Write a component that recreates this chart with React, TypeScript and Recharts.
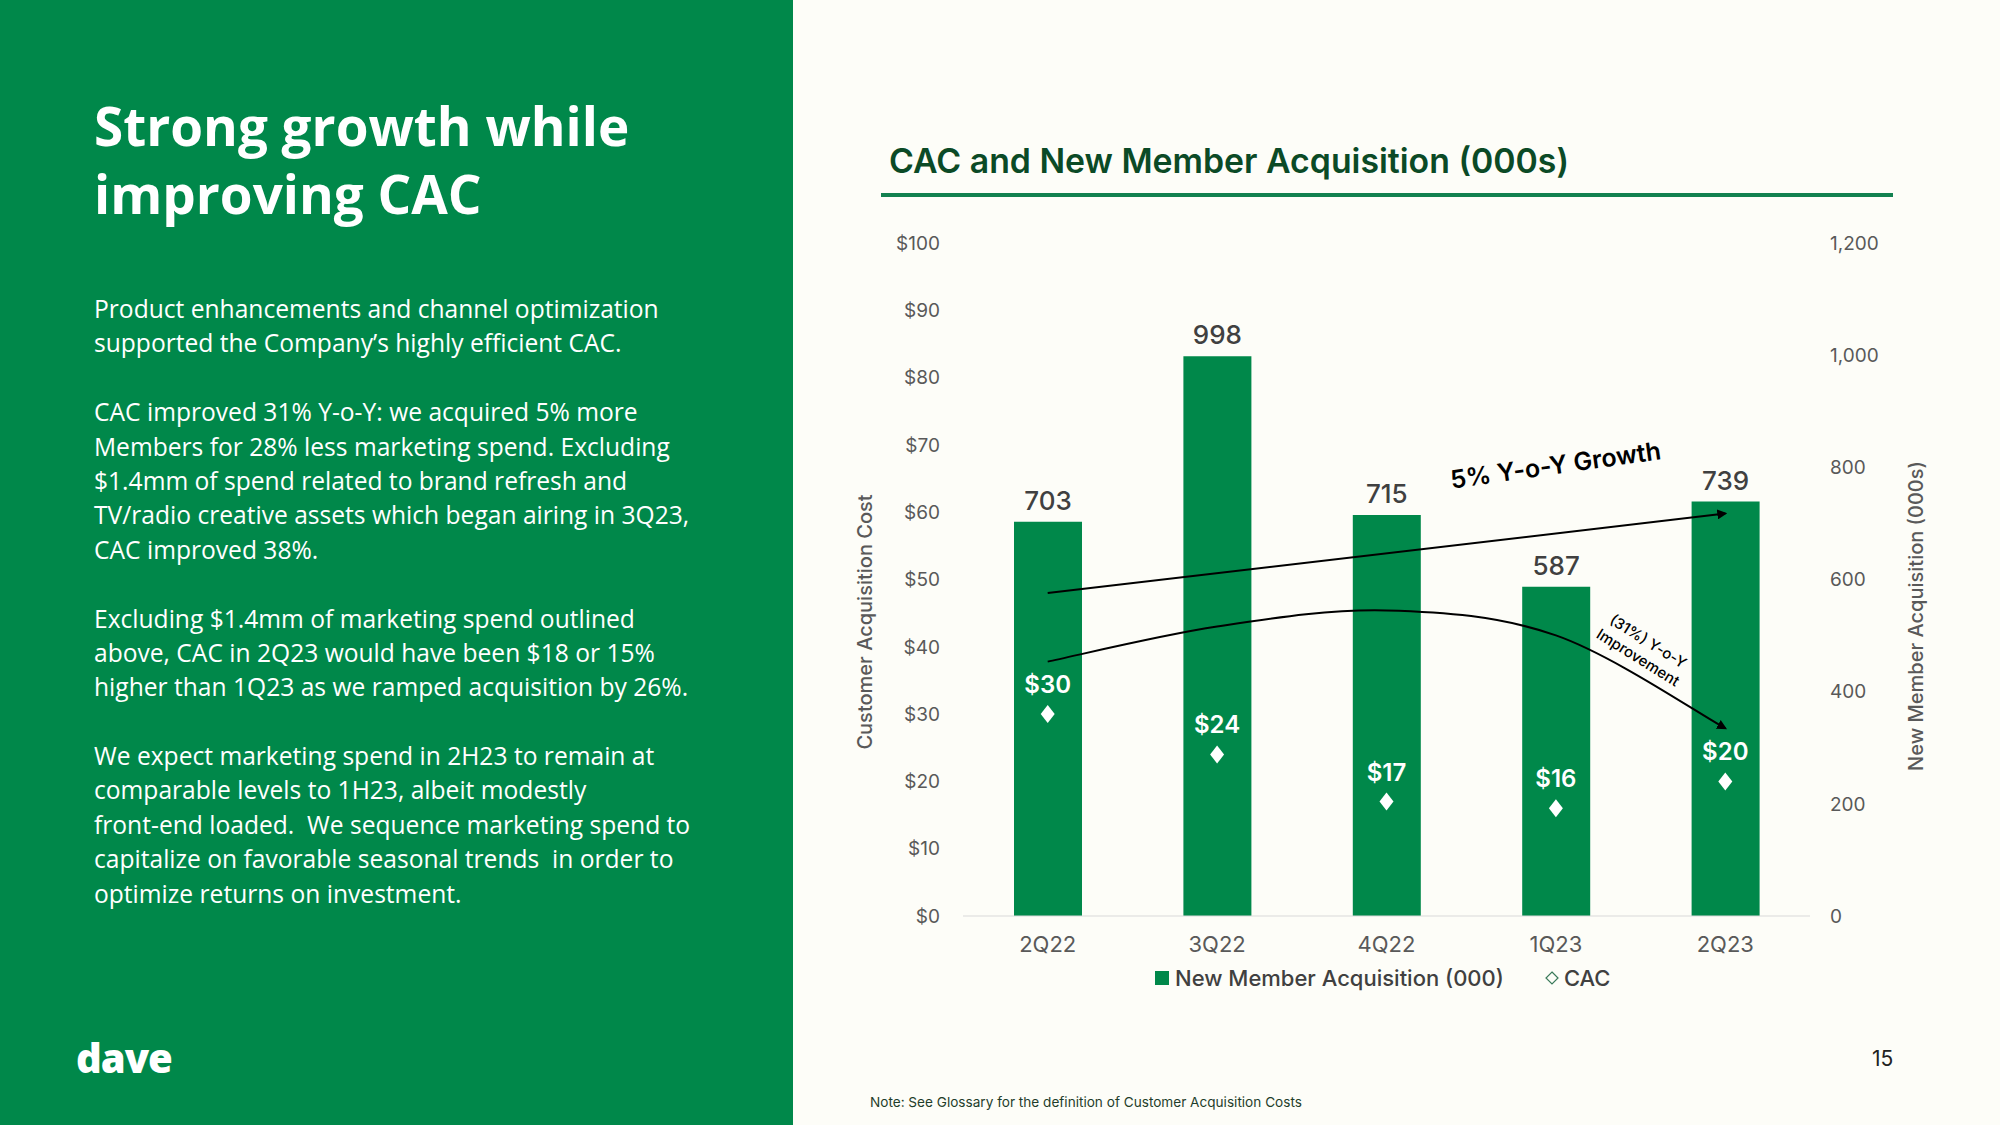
import {
  ComposedChart,
  Bar,
  Line,
  XAxis,
  YAxis,
  LabelList,
} from "recharts";

const quarters = ["2Q22", "3Q22", "4Q22", "1Q23", "2Q23"];
const newMembers = [703, 998, 715, 587, 739];
const cacValues = [30, 24, 17, 16, 20];
const cacTicks = [0, 10, 20, 30, 40, 50, 60, 70, 80, 90, 100];
const memberTicks = [0, 200, 400, 600, 800, 1000, 1200];

// annotation paths, read in CAC-axis units
const growthArrow = [48, 59.8];
const improvementCurve = [37.8, 43, 45.4, 41.7, 27.9];

const data = quarters.map((q, i) => ({
  quarter: q,
  members: newMembers[i],
  cac: cacValues[i],
}));

const GREEN = "#00884a";
const TICK = "#595959";
const FONT = "Inter, 'Open Sans', sans-serif";

// chart box on the page
const CHART = { left: 840, top: 200, width: 1110, height: 820 };
const MARGIN = { top: 43, right: 50, bottom: 64, left: 45 };
const LEFT_AXIS_W = 78;
const RIGHT_AXIS_W = 90;
const X_AXIS_H = 40;

const plotLeft = CHART.left + MARGIN.left + LEFT_AXIS_W;
const plotRight = CHART.left + CHART.width - MARGIN.right - RIGHT_AXIS_W;
const plotTop = CHART.top + MARGIN.top;
const plotBottom = CHART.top + CHART.height - MARGIN.bottom - X_AXIS_H;
const band = (plotRight - plotLeft) / quarters.length;
const xAt = (i: number) => plotLeft + band * (i + 0.5);
const yCac = (v: number) => plotBottom - (v / 100) * (plotBottom - plotTop);

const Diamond = (props: any) => {
  const { cx, cy } = props;
  if (cx == null || cy == null) return null;
  return (
    <path
      d={`M${cx},${cy - 9} L${cx + 7},${cy} L${cx},${cy + 9} L${cx - 7},${cy} Z`}
      fill="#ffffff"
    />
  );
};

const CacLabel = (props: any) => {
  const { x, y, value } = props;
  return (
    <text
      x={x}
      y={y - 21}
      textAnchor="middle"
      fill="#ffffff"
      fontSize={24}
      fontWeight={600}
      fontFamily={FONT}
    >
      {`$${value}`}
    </text>
  );
};

const smoothPath = (pts: [number, number][]) => {
  let d = `M${pts[0][0]},${pts[0][1]}`;
  for (let i = 0; i < pts.length - 1; i++) {
    const p0 = pts[i - 1] || pts[i];
    const p1 = pts[i];
    const p2 = pts[i + 1];
    const p3 = pts[i + 2] || p2;
    const c1x = p1[0] + (p2[0] - p0[0]) / 6;
    const c1y = p1[1] + (p2[1] - p0[1]) / 6;
    const c2x = p2[0] - (p3[0] - p1[0]) / 6;
    const c2y = p2[1] - (p3[1] - p1[1]) / 6;
    d += ` C${c1x},${c1y} ${c2x},${c2y} ${p2[0]},${p2[1]}`;
  }
  return d;
};

const Annotations = () => {
  const curve = improvementCurve.map(
    (v, i) => [xAt(i), yCac(v)] as [number, number]
  );
  const last = quarters.length - 1;
  return (
    <svg
      width={2000}
      height={1125}
      style={{ position: "absolute", left: 0, top: 0, pointerEvents: "none" }}
    >
      <defs>
        <marker
          id="arrow"
          viewBox="0 0 10 10"
          refX="8"
          refY="5"
          markerWidth="5"
          markerHeight="5"
          orient="auto"
        >
          <path d="M0,0 L10,5 L0,10 Z" fill="#000" />
        </marker>
      </defs>
      <line
        x1={xAt(0)}
        y1={yCac(growthArrow[0])}
        x2={xAt(last)}
        y2={yCac(growthArrow[1])}
        stroke="#000"
        strokeWidth={2}
        markerEnd="url(#arrow)"
      />
      <path
        d={smoothPath(curve)}
        fill="none"
        stroke="#000"
        strokeWidth={2}
        markerEnd="url(#arrow)"
      />
      <text
        x={xAt(3)}
        y={yCac(66.7)}
        textAnchor="middle"
        dominantBaseline="middle"
        fontSize={25}
        fontWeight={600}
        fontFamily={FONT}
        fill="#000"
        transform={`rotate(-8 ${xAt(3)} ${yCac(66.7)})`}
      >
        5% Y-o-Y Growth
      </text>
      <g transform={`rotate(32 ${xAt(3.5)} ${yCac(39)})`}>
        <text
          x={xAt(3.5)}
          y={yCac(39) - 9}
          textAnchor="middle"
          fontSize={15}
          fontWeight={500}
          fontFamily={FONT}
          fill="#000"
        >
          (31%) Y-o-Y
        </text>
        <text
          x={xAt(3.5)}
          y={yCac(39) + 10}
          textAnchor="middle"
          fontSize={15}
          fontWeight={500}
          fontFamily={FONT}
          fill="#000"
        >
          Improvement
        </text>
      </g>
    </svg>
  );
};

const bodyText = [
  "Product enhancements and channel optimization",
  "supported the Company’s highly efficient CAC.",
  "",
  "CAC improved 31% Y-o-Y: we acquired 5% more",
  "Members for 28% less marketing spend. Excluding",
  "$1.4mm of spend related to brand refresh and",
  "TV/radio creative assets which began airing in 3Q23,",
  "CAC improved 38%.",
  "",
  "Excluding $1.4mm of marketing spend outlined",
  "above, CAC in 2Q23 would have been $18 or 15%",
  "higher than 1Q23 as we ramped acquisition by 26%.",
  "",
  "We expect marketing spend in 2H23 to remain at",
  "comparable levels to 1H23, albeit modestly",
  "front-end loaded.  We sequence marketing spend to",
  "capitalize on favorable seasonal trends  in order to",
  "optimize returns on investment.",
];

export default function App() {
  return (
    <div
      style={{
        position: "absolute",
        left: 0,
        top: 0,
        width: 2000,
        height: 1125,
        background: "#fdfdf8",
        overflow: "hidden",
        fontFamily: FONT,
      }}
    >
      {/* left panel */}
      <div
        style={{
          position: "absolute",
          left: 0,
          top: 0,
          width: 793,
          height: 1125,
          background: GREEN,
          color: "#ffffff",
        }}
      >
        <div
          style={{
            position: "absolute",
            left: 94,
            top: 92,
            fontSize: 53,
            fontWeight: 700,
            lineHeight: "68px",
            fontFamily: "'Open Sans', sans-serif",
          }}
        >
          Strong growth while
          <br />
          improving CAC
        </div>
        <div
          style={{
            position: "absolute",
            left: 94,
            top: 292,
            fontSize: 24.6,
            lineHeight: "34.4px",
            fontFamily: "'Open Sans', sans-serif",
            whiteSpace: "pre",
          }}
        >
          {bodyText.map((line, i) => (
            <div key={i} style={{ height: 34.4 }}>
              {line}
            </div>
          ))}
        </div>
        <div
          style={{
            position: "absolute",
            left: 76,
            top: 1036,
            fontSize: 40,
            fontWeight: 800,
            letterSpacing: -1,
            fontFamily: "'Open Sans', sans-serif",
            lineHeight: "44px",
          }}
        >
          dave
        </div>
      </div>

      {/* chart title */}
      <div
        style={{
          position: "absolute",
          left: 889,
          top: 141,
          fontSize: 33.8,
          fontWeight: 600,
          color: "#0b4a26",
          lineHeight: "40px",
          whiteSpace: "nowrap",
        }}
      >
        CAC and New Member Acquisition (000s)
      </div>
      <div
        style={{
          position: "absolute",
          left: 881,
          top: 193,
          width: 1012,
          height: 4,
          background: "#138150",
        }}
      />

      <div
        style={{
          position: "absolute",
          left: CHART.left,
          top: CHART.top,
        }}
      >
        <ComposedChart
          width={CHART.width}
          height={CHART.height}
          data={data}
          margin={MARGIN}
          barCategoryGap="60%"
        >
          <XAxis
            dataKey="quarter"
            height={X_AXIS_H}
            axisLine={{ stroke: "#d9d9d9" }}
            tickLine={false}
            tickMargin={14}
            tick={{ fill: TICK, fontSize: 22, fontFamily: FONT }}
          />
          <YAxis
            yAxisId="cac"
            orientation="left"
            width={LEFT_AXIS_W}
            domain={[0, 100]}
            ticks={cacTicks}
            axisLine={false}
            tickLine={false}
            tickMargin={17}
            tick={{ fill: TICK, fontSize: 19, fontFamily: FONT }}
            tickFormatter={(v) => `$${v}`}
          />
          <YAxis
            yAxisId="members"
            orientation="right"
            width={RIGHT_AXIS_W}
            domain={[0, 1200]}
            ticks={memberTicks}
            axisLine={false}
            tickLine={false}
            tickMargin={14}
            tick={{ fill: TICK, fontSize: 19, fontFamily: FONT }}
            tickFormatter={(v) => v.toLocaleString("en-US")}
          />
          <Bar
            yAxisId="members"
            dataKey="members"
            fill={GREEN}
            barSize={68}
            isAnimationActive={false}
          >
            <LabelList
              dataKey="members"
              position="top"
              offset={12}
              fill="#404040"
              fontSize={26}
              fontWeight={500}
              fontFamily={FONT}
            />
          </Bar>
          <Line
            yAxisId="cac"
            dataKey="cac"
            stroke="none"
            strokeWidth={0}
            dot={<Diamond />}
            activeDot={false}
            label={<CacLabel />}
            isAnimationActive={false}
          />
        </ComposedChart>
      </div>

      {/* axis titles */}
      <div
        style={{
          position: "absolute",
          left: 865,
          top: 622,
          transform: "translate(-50%, -50%) rotate(-90deg)",
          fontSize: 20,
          fontWeight: 500,
          color: "#595959",
          whiteSpace: "nowrap",
        }}
      >
        Customer Acquisition Cost
      </div>
      <div
        style={{
          position: "absolute",
          left: 1916,
          top: 616,
          transform: "translate(-50%, -50%) rotate(-90deg)",
          fontSize: 20,
          fontWeight: 500,
          color: "#595959",
          whiteSpace: "nowrap",
        }}
      >
        New Member Acquisition (000s)
      </div>

      {/* legend */}
      <div
        style={{
          position: "absolute",
          left: 1155,
          top: 964,
          display: "flex",
          alignItems: "center",
          fontSize: 22,
          fontWeight: 500,
          color: "#404040",
          lineHeight: "28px",
          whiteSpace: "nowrap",
        }}
      >
        <span
          style={{
            display: "inline-block",
            width: 14,
            height: 14,
            background: GREEN,
            marginRight: 6,
          }}
        />
        <span>New Member Acquisition (000)</span>
        <svg width={16} height={16} style={{ marginLeft: 40, marginRight: 4 }}>
          <path d="M8,2 L14,8 L8,14 L2,8 Z" fill="none" stroke="#3a7a5a" strokeWidth={1.2} />
        </svg>
        <span>CAC</span>
      </div>

      <Annotations />

      <div
        style={{
          position: "absolute",
          left: 870,
          top: 1094,
          fontSize: 13.6,
          color: "#1f3d2b",
          whiteSpace: "nowrap",
        }}
      >
        Note: See Glossary for the definition of Customer Acquisition Costs
      </div>
      <div
        style={{
          position: "absolute",
          left: 1872,
          top: 1046,
          fontSize: 21,
          color: "#222222",
        }}
      >
        15
      </div>
    </div>
  );
}
